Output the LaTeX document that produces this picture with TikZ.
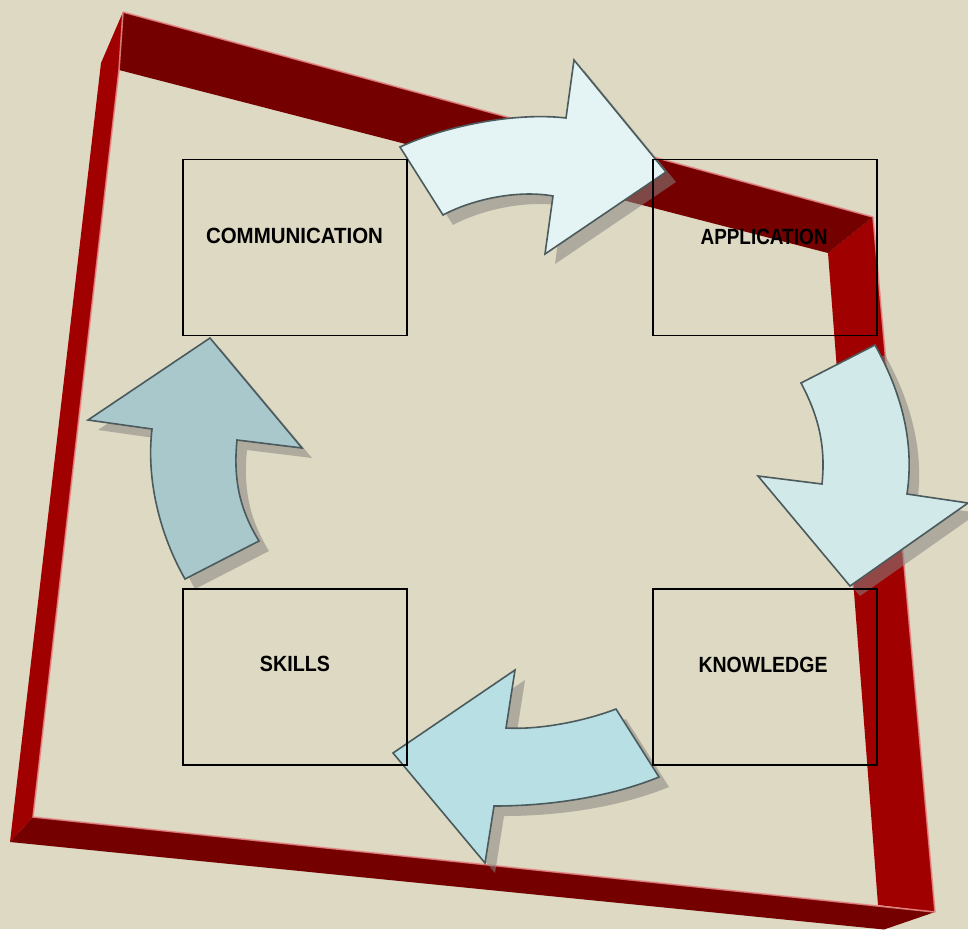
\documentclass[tikz,border=0pt]{standalone}
\usepackage{fontspec}
\setmainfont{Liberation Sans}
\usepackage{graphicx}
\definecolor{bg}{HTML}{DDD9C3}
\definecolor{lightred}{HTML}{A00000}
\definecolor{darkred}{HTML}{740000}
\definecolor{hlpink}{HTML}{E88888}
\definecolor{arrowline}{HTML}{4B5A5C}
\definecolor{shadowgray}{HTML}{888480}
\definecolor{fillA}{HTML}{E4F4F4}
\definecolor{fillB}{HTML}{D1E9E9}
\definecolor{fillC}{HTML}{B8E0E4}
\definecolor{fillD}{HTML}{A8C8CC}
\def\toparrowpath{(400,147) .. controls (445,126) and (515,112) .. (566,118) -- (574,60) -- (666,172) -- (545,254) -- (553,196) .. controls (520,190) and (475,198) .. (443,215) -- cycle}
\def\rightarrowpath{(875,345) .. controls (900,390) and (915,440) .. (907,494) -- (968,503) -- (850,586) -- (758,476) -- (822,484) .. controls (826,445) and (818,415) .. (801,383) -- cycle}
\def\bottomarrowpath{(616,709) .. controls (585,721) and (540,730) .. (506,728) -- (515,670) -- (393,753) -- (485,863) -- (494,806) .. controls (550,806) and (610,797) .. (659,777) -- cycle}
\def\leftarrowpath{(185,579) .. controls (160,535) and (146,480) .. (152,429) -- (88,420) -- (210,338) -- (302,448) -- (237,440) .. controls (233,480) and (240,510) .. (259,541) -- cycle}
\begin{document}
\begin{tikzpicture}[x=1pt,y=-1pt,
  hl/.style={draw=hlpink,line width=1.6pt,draw opacity=0.85,line join=round},
  cyclearrow/.style={draw=arrowline,line width=1.6pt,line join=miter},
  dropshadow/.style={fill=shadowgray,fill opacity=0.55,draw=none,shift={(10,10)}},
  stagebox/.style={draw=black,line width=1.5pt,minimum width=224pt,minimum height=176pt,inner sep=0pt,outer sep=0pt},
  stagelabel/.style={font=\bfseries\fontsize{22}{26}\selectfont,inner sep=0pt,text=black}]
\fill[bg] (0,0) rectangle (968,929);
\useasboundingbox (0,0) rectangle (968,929);
% frame
\fill[lightred] (123,12) -- (101,63) -- (10,842) -- (33,817) -- (119,70) -- cycle;
\fill[lightred] (873,217) -- (935,912) -- (878,905) -- (828,253) -- cycle;
\fill[darkred] (123,12) -- (873,217) -- (828,253) -- (119,70) -- cycle;
\fill[darkred] (10,842) -- (33,817) -- (935,912) -- (884,929.5) -- cycle;
\draw[hl] (123,12) -- (873,217) -- (935,912);
\draw[hl] (123,12) -- (119,70) -- (33,817) -- (935,912);
% arrow shadows
\fill[dropshadow] \toparrowpath;
\fill[dropshadow] \rightarrowpath;
\fill[dropshadow] \bottomarrowpath;
\fill[dropshadow] \leftarrowpath;
% arrows
\filldraw[cyclearrow,fill=fillA] \toparrowpath;
\filldraw[cyclearrow,fill=fillB] \rightarrowpath;
\filldraw[cyclearrow,fill=fillC] \bottomarrowpath;
\filldraw[cyclearrow,fill=fillD] \leftarrowpath;
% boxes
\node[stagebox] (comm) at (295,247.5) {};
\node[stagebox] (appl) at (765,247.5) {};
\node[stagebox] (skil) at (295,676.8) {};
\node[stagebox] (know) at (765,676.8) {};
\node[stagelabel] (commlabel) at (294.5,236) {\scalebox{0.93}[1]{COMMUNICATION}};
\node[stagelabel] (appllabel) at (764,236.5) {\scalebox{0.86}[1]{APPLICATION}};
\node[stagelabel] (skillabel) at (295,664) {\scalebox{0.895}[1]{SKILLS}};
\node[stagelabel] (knowlabel) at (763,665) {\scalebox{0.887}[1]{KNOWLEDGE}};
\end{tikzpicture}
\end{document}
